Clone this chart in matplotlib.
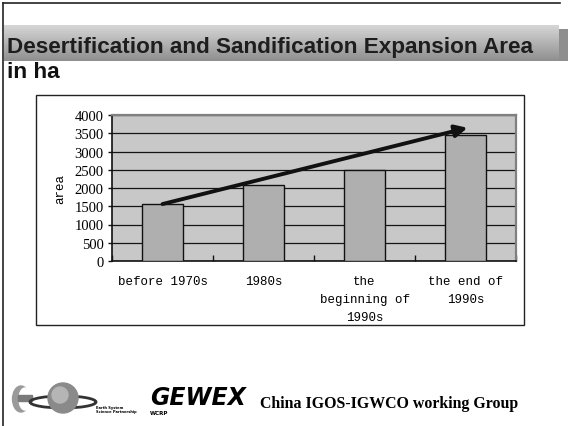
import numpy as np
import matplotlib.pyplot as plt
from matplotlib.patches import Rectangle, Ellipse, Circle
from matplotlib.ticker import FixedLocator

# dane: powierzchnia pustynnienia (ha)
okresy = ['before 1970s', '1980s', 'the\nbeginning of\n1990s', 'the end of\n1990s']
powierzchnia = [1560, 2090, 2480, 3450]
trend_koniec = 3650

W, H = 568, 427
fig = plt.figure(figsize=(W / 100, H / 100), dpi=100)

# tlo slajdu w pikselach
tlo = fig.add_axes([0, 0, 1, 1], zorder=0)
tlo.set_xlim(0, W)
tlo.set_ylim(H, 0)
tlo.axis('off')

tlo.plot([3, 560], [4, 4], color='#222222', lw=1.2)
tlo.plot([3, 3], [4, H], color='#222222', lw=1.2)

# pasek tytulu z gradientem
gradient = np.linspace(0.84, 0.56, 64).reshape(-1, 1)
tlo.add_patch(Rectangle((559, 30), 9, 32, color='#8e8e8e', lw=0))
tlo.imshow(gradient, cmap='gray', vmin=0, vmax=1, aspect='auto',
           extent=(4, 559, 62, 26), interpolation='bicubic')
tlo.set_xlim(0, W)
tlo.set_ylim(H, 0)

tlo.text(7, 47, 'Desertification and Sandification Expansion Area',
         fontsize=16.2, fontweight='bold', family='Liberation Sans',
         color='#1e1e1e', va='center', ha='left')
tlo.text(7, 72, 'in ha', fontsize=16.2, fontweight='bold',
         family='Liberation Sans', color='#111111', va='center', ha='left')

# ramka wykresu
tlo.add_patch(Rectangle((36, 96), 488, 230, fill=False, ec='#222222', lw=1))

# stopka: logotypy i podpis
tlo.add_patch(Ellipse((21, 400), 17, 26, color='#9a9a9a'))
tlo.add_patch(Ellipse((25, 400), 12, 22, color='white'))
tlo.add_patch(Rectangle((18, 396), 14, 6, color='#7a7a7a'))
tlo.add_patch(Ellipse((63, 403), 66, 12, fill=False, ec='#333333', lw=2))
tlo.add_patch(Circle((63, 399), 15, color='#8a8a8a'))
tlo.add_patch(Circle((60, 396), 8, color='#b5b5b5'))
tlo.text(96, 410, 'Earth System\nScience Partnership', fontsize=2.6,
         fontweight='bold', va='center', ha='left', linespacing=1.3)
tlo.text(150, 398, 'GEWEX', fontsize=17, fontweight='heavy',
         family='DejaVu Sans', style='italic', va='center', ha='left',
         color='black')
tlo.text(150, 414, 'WCRP', fontsize=4, fontweight='bold', va='center',
         ha='left')
tlo.text(260, 404, 'China IGOS-IGWCO working Group', fontsize=11.4,
         fontweight='bold', family='Liberation Serif', va='center',
         ha='left')

# wykres slupkowy
ax = fig.add_axes([112 / W, 1 - 262 / H, 404 / W, 146 / H], zorder=2)
ax.set_facecolor('#c8c8c8')
x = np.arange(len(okresy))
ax.bar(x, powierzchnia, width=0.4, color='#afafaf', edgecolor='#111111',
       lw=1, zorder=3)

ax.set_xlim(-0.5, len(okresy) - 0.5)
ax.set_ylim(0, 4000)
ax.set_yticks(np.arange(0, 4001, 500))
ax.yaxis.grid(True, color='#151515', lw=0.9, zorder=1)
ax.set_axisbelow(True)

ax.set_xticks(x)
ax.set_xticklabels(okresy, family='Liberation Mono', fontsize=9,
                   linespacing=1.65, va='top')
ax.xaxis.set_minor_locator(FixedLocator(np.arange(-0.5, len(okresy), 1.0)))
ax.tick_params(axis='x', which='major', length=0, pad=10)
ax.tick_params(axis='x', which='minor', direction='in', length=4,
               width=1, color='#111111')
ax.tick_params(axis='y', length=3, width=1, pad=3, labelsize=10.5,
               color='#111111')
for lab in ax.get_yticklabels():
    lab.set_family('Liberation Serif')

ax.set_ylabel('area', family='Liberation Mono', fontsize=9, labelpad=6)

for s in ['top', 'right']:
    ax.spines[s].set_color('#808080')
    ax.spines[s].set_linewidth(1.6)
for s in ['left', 'bottom']:
    ax.spines[s].set_color('#111111')
    ax.spines[s].set_linewidth(1.2)

# strzalka trendu
ax.annotate('', xy=(3.02, trend_koniec), xytext=(0.0, powierzchnia[0]),
            arrowprops=dict(arrowstyle='-|>', color='#111111', lw=2.8,
                            mutation_scale=18, shrinkA=0, shrinkB=0),
            zorder=5)

fig.savefig('out.png', dpi=100)
